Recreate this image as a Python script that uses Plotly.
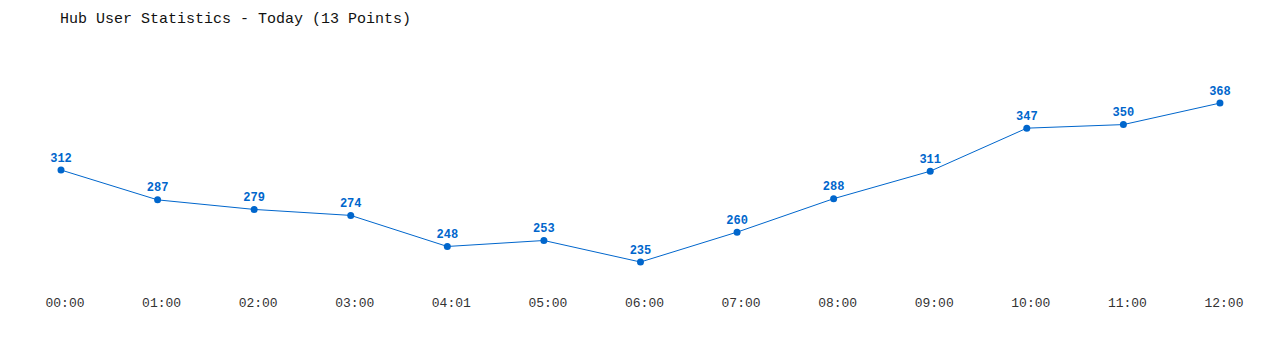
import plotly.graph_objects as go

times = ["00:00", "01:00", "02:00", "03:00", "04:01", "05:00", "06:00",
         "07:00", "08:00", "09:00", "10:00", "11:00", "12:00"]
users = [312, 287, 279, 274, 248, 253, 235, 260, 288, 311, 347, 350, 368]

color = "#0066cc"
idx = list(range(len(times)))

fig = go.Figure(go.Scatter(
    x=idx, y=users, mode="lines+markers+text",
    line=dict(color=color, width=1),
    marker=dict(color=color, size=7),
    text=[str(v) for v in users], textposition="top center",
    textfont=dict(family="Liberation Mono", size=12, color=color, weight="bold"),
    cliponaxis=False, hoverinfo="skip",
))

fig.update_layout(
    width=1280, height=350,
    margin=dict(l=0, r=0, t=0, b=60),
    paper_bgcolor="white", plot_bgcolor="white",
    showlegend=False,
    title=dict(text="Hub User Statistics - Today (13 Points)", x=60/1280, xanchor="left",
               y=1 - 18/350, yanchor="middle",
               font=dict(family="Liberation Mono", size=15, color="#111")),
    xaxis=dict(range=[-61/96.58, -61/96.58 + 1280/96.58], tickvals=idx, ticktext=times,
               showgrid=False, zeroline=False, showline=False, ticks="",
               ticklabelstandoff=3, ticklabelshift=4,
               tickfont=dict(family="Liberation Mono", size=13, color="#333")),
    yaxis=dict(range=[312 - 120/1.195, 312 + 170/1.195], visible=False, showgrid=False),
)

fig.write_html("out.html")
